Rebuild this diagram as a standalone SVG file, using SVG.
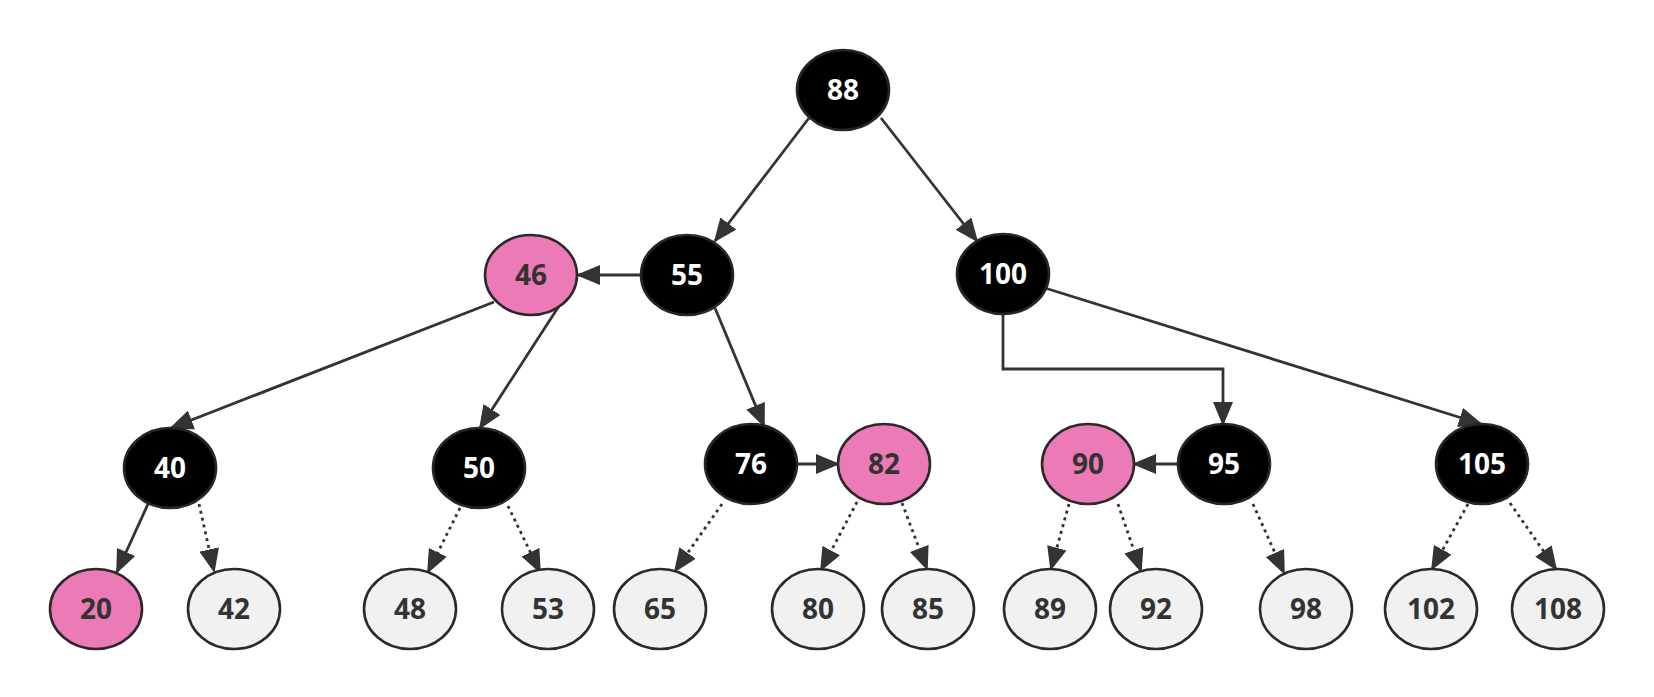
<svg xmlns="http://www.w3.org/2000/svg" width="1654" height="697" viewBox="0 0 1654 697">
<style>
.n ellipse{stroke-width:2.6}
.b ellipse{fill:#000;stroke:#23272b}
.r ellipse{fill:#ec7ab6;stroke:#2a2a2a}
.w ellipse{fill:#f1f1f1;stroke:#2a2a2a}
.n text{font-family:"Noto Sans","Open Sans","Liberation Sans",sans-serif;font-weight:bold;font-size:28px;text-anchor:middle}
.b text{fill:#fff}
.r text,.w text{fill:#333}
.e{fill:none;stroke:#333;stroke-width:2.8;marker-end:url(#ah)}
.d{stroke-dasharray:3 4}
</style>
<defs>
<marker id="ah" markerUnits="userSpaceOnUse" viewBox="0 0 24 20" refX="22" refY="10" markerWidth="24" markerHeight="20" orient="auto">
<path d="M0,0 L24,10 L0,20 z" fill="#333"/>
</marker>
</defs>
<rect width="1654" height="697" fill="#fff"/>
<g id="edges">
<line class="e" x1="809" y1="118" x2="715" y2="241"/>
<line class="e" x1="881" y1="118" x2="977" y2="241"/>
<line class="e" x1="641" y1="275" x2="578" y2="275"/>
<line class="e" x1="494" y1="302" x2="171" y2="428"/>
<line class="e" x1="559" y1="306" x2="480" y2="428"/>
<line class="e" x1="715" y1="308" x2="764" y2="426"/>
<line class="e" x1="797" y1="464" x2="838" y2="464"/>
<path class="e" d="M1003,314 V369 H1223 V424"/>
<line class="e" x1="1045" y1="288" x2="1481" y2="424"/>
<line class="e" x1="1178" y1="464" x2="1134" y2="464"/>
<line class="e" x1="148" y1="504" x2="117" y2="572"/>
<line class="e d" x1="199" y1="504" x2="214" y2="571"/>
<line class="e d" x1="460" y1="508" x2="428" y2="572"/>
<line class="e d" x1="508" y1="506" x2="540" y2="572"/>
<line class="e d" x1="722" y1="504" x2="675" y2="571"/>
<line class="e d" x1="857" y1="502" x2="821" y2="570"/>
<line class="e d" x1="902" y1="503" x2="927" y2="569"/>
<line class="e d" x1="1069" y1="504" x2="1051" y2="569"/>
<line class="e d" x1="1118" y1="504" x2="1141" y2="571"/>
<line class="e d" x1="1253" y1="504" x2="1284" y2="573"/>
<line class="e d" x1="1468" y1="504" x2="1432" y2="569"/>
<line class="e d" x1="1510" y1="503" x2="1556" y2="569"/>
</g>
<g id="n88" class="n b"><ellipse cx="843" cy="90" rx="46" ry="40"/><text x="843" y="100">88</text></g>
<g id="n55" class="n b"><ellipse cx="687" cy="275" rx="46" ry="40"/><text x="687" y="285">55</text></g>
<g id="n46" class="n r"><ellipse cx="531" cy="275" rx="46" ry="40"/><text x="531" y="285">46</text></g>
<g id="n100" class="n b"><ellipse cx="1003" cy="274" rx="46" ry="40"/><text x="1003" y="284">100</text></g>
<g id="n40" class="n b"><ellipse cx="170" cy="468" rx="46" ry="40"/><text x="170" y="478">40</text></g>
<g id="n50" class="n b"><ellipse cx="479" cy="468" rx="46" ry="40"/><text x="479" y="478">50</text></g>
<g id="n76" class="n b"><ellipse cx="751" cy="464" rx="46" ry="40"/><text x="751" y="474">76</text></g>
<g id="n82" class="n r"><ellipse cx="884" cy="464" rx="46" ry="40"/><text x="884" y="474">82</text></g>
<g id="n90" class="n r"><ellipse cx="1088" cy="464" rx="46" ry="40"/><text x="1088" y="474">90</text></g>
<g id="n95" class="n b"><ellipse cx="1224" cy="464" rx="46" ry="40"/><text x="1224" y="474">95</text></g>
<g id="n105" class="n b"><ellipse cx="1482" cy="464" rx="46" ry="40"/><text x="1482" y="474">105</text></g>
<g id="n20" class="n r"><ellipse cx="96" cy="609" rx="46" ry="40"/><text x="96" y="619">20</text></g>
<g id="n42" class="n w"><ellipse cx="234" cy="609" rx="46" ry="40"/><text x="234" y="619">42</text></g>
<g id="n48" class="n w"><ellipse cx="410" cy="609" rx="46" ry="40"/><text x="410" y="619">48</text></g>
<g id="n53" class="n w"><ellipse cx="548" cy="609" rx="46" ry="40"/><text x="548" y="619">53</text></g>
<g id="n65" class="n w"><ellipse cx="660" cy="609" rx="46" ry="40"/><text x="660" y="619">65</text></g>
<g id="n80" class="n w"><ellipse cx="818" cy="609" rx="46" ry="40"/><text x="818" y="619">80</text></g>
<g id="n85" class="n w"><ellipse cx="928" cy="609" rx="46" ry="40"/><text x="928" y="619">85</text></g>
<g id="n89" class="n w"><ellipse cx="1050" cy="609" rx="46" ry="40"/><text x="1050" y="619">89</text></g>
<g id="n92" class="n w"><ellipse cx="1156" cy="609" rx="46" ry="40"/><text x="1156" y="619">92</text></g>
<g id="n98" class="n w"><ellipse cx="1306" cy="609" rx="46" ry="40"/><text x="1306" y="619">98</text></g>
<g id="n102" class="n w"><ellipse cx="1431" cy="609" rx="46" ry="40"/><text x="1431" y="619">102</text></g>
<g id="n108" class="n w"><ellipse cx="1558" cy="609" rx="46" ry="40"/><text x="1558" y="619">108</text></g>
</svg>
